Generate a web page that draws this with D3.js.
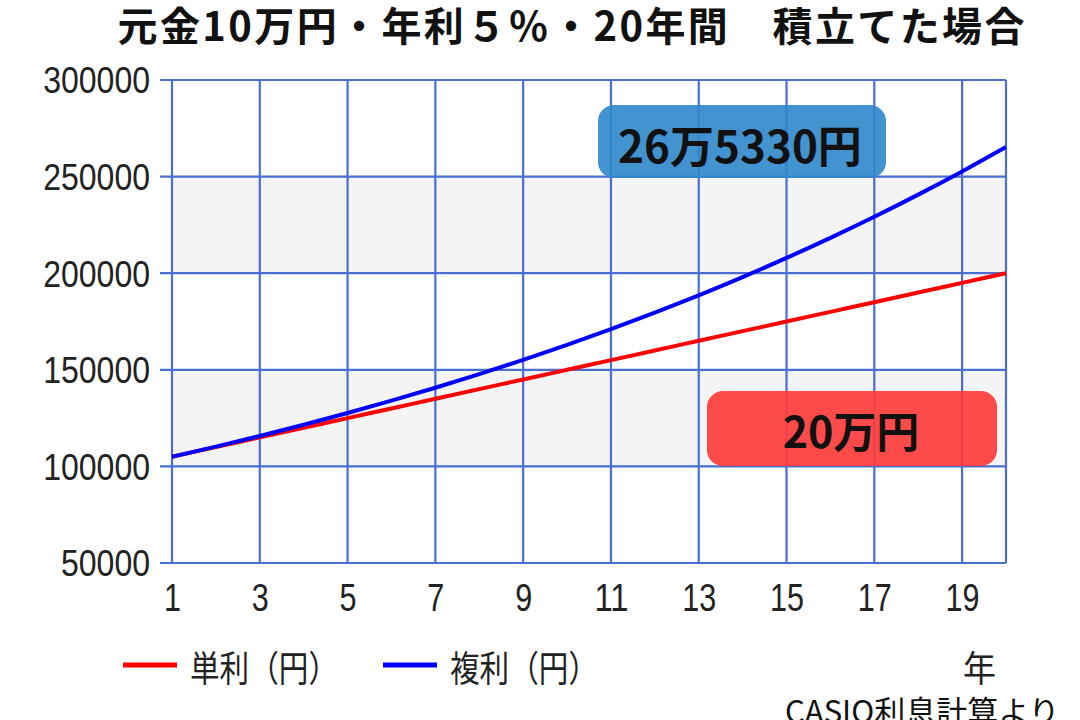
<!DOCTYPE html>
<html><head><meta charset="utf-8">
<script src="https://cdn.jsdelivr.net/npm/d3@7"></script>
<style>body{margin:0;background:#fff}svg{display:block}</style>
</head><body>
<svg id="c" width="1080" height="720"></svg>
<script>
const years = d3.range(1, 21);
const simpleValues = [105000,110000,115000,120000,125000,130000,135000,140000,145000,150000,155000,160000,165000,170000,175000,180000,185000,190000,195000,200000];
const compoundValues = [105000,110250,115763,121551,127628,134010,140710,147746,155133,162889,171034,179586,188565,197993,207893,218287,229202,240662,252695,265330];
const xTicks = [1,3,5,7,9,11,13,15,17,19];
const yTicks = [50000,100000,150000,200000,250000,300000];
const bands = [[200000,250000],[100000,150000]];
const titleText = "元金10万円・年利５％・20年間　積立てた場合";
const seriesNames = ["単利（円）","複利（円）"];
const labelCompound = "26万5330円";
const labelSimple = "20万円";
const xAxisUnit = "年";
const sourceText = "CASIO利息計算より";

const svg = d3.select("#c");
const L = 172, R = 1006, T = 80, B = 563;
const x = d3.scaleLinear().domain([1,20]).range([L,R]);
const y = d3.scaleLinear().domain([50000,300000]).range([B,T]);
const grid = "#4a6fd0";
const tickFont = "'Liberation Sans', 'DejaVu Sans', sans-serif";
const cjk = "'Noto Sans CJK JP', sans-serif";

const title = svg.append("text").attr("x", 571).attr("y", 41).attr("text-anchor","middle")
  .attr("font-family", cjk).attr("font-weight", 700).attr("font-size", 40)
  .attr("fill","#111").attr("textLength", 907).attr("lengthAdjust","spacing").text(titleText);

svg.selectAll("rect.band").data(bands).join("rect").attr("class","band")
  .attr("x", L).attr("width", R-L)
  .attr("y", d=>y(d[1])).attr("height", d=>y(d[0])-y(d[1]))
  .attr("fill","#f4f4f5");

// grid
svg.selectAll("line.vg").data(xTicks.concat([20])).join("line").attr("class","vg")
  .attr("x1", d=>x(d)).attr("x2", d=>x(d)).attr("y1", T).attr("y2", B)
  .attr("stroke", grid).attr("stroke-width", 2.2);
svg.selectAll("line.hg").data(yTicks).join("line").attr("class","hg")
  .attr("x1", L-12).attr("x2", R).attr("y1", d=>y(d)).attr("y2", d=>y(d))
  .attr("stroke", grid).attr("stroke-width", 2.2);

// axes labels
const yAxis = d3.axisLeft(y).tickValues(yTicks).tickSize(0).tickPadding(22).tickFormat(d3.format("d"));
const gy = svg.append("g").attr("transform",`translate(${L},0)`).call(yAxis);
gy.select(".domain").remove();
gy.selectAll("text").attr("font-family", tickFont).attr("font-size", 37).attr("fill","#222")
  .attr("dy","0.35em")
  .attr("textLength", d => String(d).length*17.8).attr("lengthAdjust","spacingAndGlyphs");

const xAxis = d3.axisBottom(x).tickValues(xTicks).tickSize(0).tickPadding(25).tickFormat(d3.format("d"));
const gx = svg.append("g").attr("transform",`translate(0,${B})`).call(xAxis);
gx.select(".domain").remove();
gx.selectAll("text").attr("font-family", tickFont).attr("font-size", 39).attr("fill","#222")
  .attr("dy","0.6em")
  .attr("textLength", d => String(d).length*17).attr("lengthAdjust","spacingAndGlyphs");

// lines
const line = d3.line().x((d,i)=>x(years[i])).y(d=>y(d)).curve(d3.curveMonotoneX);
svg.append("path").datum(simpleValues).attr("d", line).attr("fill","none")
  .attr("stroke","#ff0000").attr("stroke-width",4);
svg.append("path").datum(compoundValues).attr("d", line).attr("fill","none")
  .attr("stroke","#0000ff").attr("stroke-width",4);

// labels
svg.append("rect").attr("x",598).attr("y",105).attr("width",288).attr("height",73).attr("rx",16)
  .attr("fill","#2f87cc").attr("fill-opacity",0.9);
svg.append("text").attr("x",740).attr("y",163).attr("text-anchor","middle")
  .attr("font-family", cjk).attr("font-weight",700).attr("font-size",44).attr("fill","#111").text(labelCompound);
svg.append("rect").attr("x",707).attr("y",391).attr("width",290).attr("height",75).attr("rx",16)
  .attr("fill","#ff3b3b").attr("fill-opacity",0.92);
svg.append("text").attr("x",851).attr("y",448).attr("text-anchor","middle")
  .attr("font-family", cjk).attr("font-weight",700).attr("font-size",43).attr("fill","#111").text(labelSimple);

// legend
const leg = [{c:"#ff0000", x:123, t:seriesNames[0]},{c:"#0000ff", x:383, t:seriesNames[1]}];
leg.forEach(l=>{
  svg.append("line").attr("x1",l.x).attr("x2",l.x+54).attr("y1",665).attr("y2",665)
    .attr("stroke",l.c).attr("stroke-width",5);
  svg.append("text").attr("x",l.x+67).attr("y",682).attr("font-family",cjk)
    .attr("font-size",36).attr("fill","#222")
    .attr("textLength",148).attr("lengthAdjust","spacingAndGlyphs").text(l.t);
});
svg.append("text").attr("x",963).attr("y",682).attr("font-family",cjk)
  .attr("font-size",36).attr("fill","#222")
  .attr("textLength",33).attr("lengthAdjust","spacingAndGlyphs").text(xAxisUnit);
svg.append("text").attr("x",785).attr("y",723).attr("font-family",cjk)
  .attr("font-size",31).attr("fill","#111").text(sourceText);
</script>
</body></html>
